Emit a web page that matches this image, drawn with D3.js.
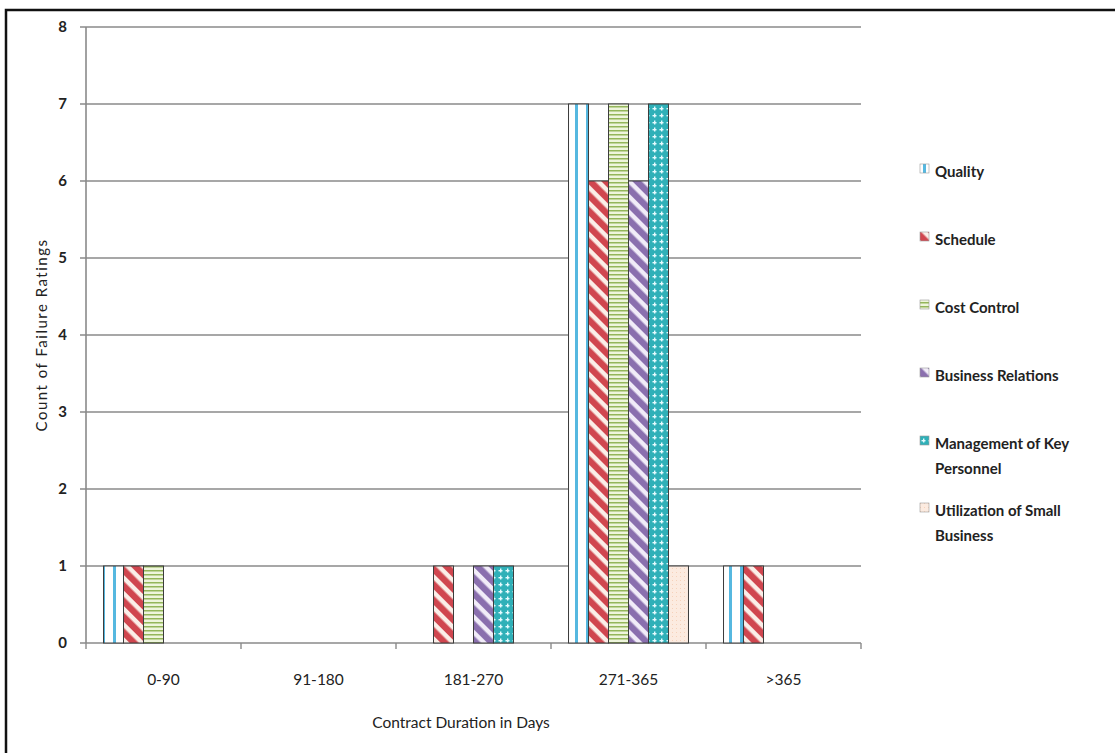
<!DOCTYPE html>
<html>
<head>
<meta charset="utf-8">
<script src="https://cdn.jsdelivr.net/npm/d3@7"></script>
<style>
  html, body { margin: 0; padding: 0; background: #ffffff; }
  svg { display: block; }
  text { font-family: Lato, "Open Sans", "DejaVu Sans", sans-serif; fill: #222; }
</style>
</head>
<body>
<script>
// ---- data ----
const categories = ["0-90", "91-180", "181-270", "271-365", ">365"];
const seriesNames = ["Quality", "Schedule", "Cost Control", "Business Relations",
  "Management of Key Personnel", "Utilization of Small Business"];
const quality            = [1, 0, 0, 7, 1];
const schedule           = [1, 0, 1, 6, 1];
const costControl        = [1, 0, 0, 7, 0];
const businessRelations  = [0, 0, 1, 6, 0];
const mgmtKeyPersonnel   = [0, 0, 1, 7, 0];
const smallBusiness      = [0, 0, 0, 1, 0];
const yTicks = [0, 1, 2, 3, 4, 5, 6, 7, 8];
const legendLines = [["Quality"], ["Schedule"], ["Cost Control"], ["Business Relations"],
  ["Management of Key", "Personnel"], ["Utilization of Small", "Business"]];
const xTitle = "Contract Duration in Days";
const yTitle = "Count of Failure Ratings";

const seriesValues = [quality, schedule, costControl, businessRelations, mgmtKeyPersonnel, smallBusiness];
const patternIds = ["pQuality", "pSchedule", "pCost", "pBusiness", "pMgmt", "pSmall"];

const W = 1115, H = 753;
const svg = d3.select("body").append("svg").attr("width", W).attr("height", H);

// ---- patterns ----
const defs = svg.append("defs");
// Quality: white with vertical blue lines
let p = defs.append("pattern").attr("id", "pQuality").attr("patternUnits", "userSpaceOnUse")
  .attr("width", 11).attr("height", 4);
p.append("rect").attr("width", 11).attr("height", 4).attr("fill", "#ffffff");
p.append("rect").attr("x", 3).attr("width", 3).attr("height", 4).attr("fill", "#56b8e0");
// Schedule: red diagonal stripes
p = defs.append("pattern").attr("id", "pSchedule").attr("patternUnits", "userSpaceOnUse")
  .attr("width", 11).attr("height", 11).attr("patternTransform", "rotate(-45)");
p.append("rect").attr("width", 11).attr("height", 11).attr("fill", "#fbeee8");
p.append("rect").attr("width", 6.5).attr("height", 11).attr("fill", "#d0464f");
// Cost Control: green horizontal lines
p = defs.append("pattern").attr("id", "pCost").attr("patternUnits", "userSpaceOnUse")
  .attr("width", 4).attr("height", 4);
p.append("rect").attr("width", 4).attr("height", 4).attr("fill", "#eef5dc");
p.append("rect").attr("y", 2).attr("width", 4).attr("height", 1.5).attr("fill", "#94b65a");
// Business Relations: purple diagonal stripes
p = defs.append("pattern").attr("id", "pBusiness").attr("patternUnits", "userSpaceOnUse")
  .attr("width", 11).attr("height", 11).attr("patternTransform", "rotate(-45)");
p.append("rect").attr("width", 11).attr("height", 11).attr("fill", "#f1ecf8");
p.append("rect").attr("width", 6.5).attr("height", 11).attr("fill", "#8a6fae");
// Management: teal with white dots
p = defs.append("pattern").attr("id", "pMgmt").attr("patternUnits", "userSpaceOnUse")
  .attr("width", 7).attr("height", 7);
p.append("rect").attr("width", 7).attr("height", 7).attr("fill", "#2fb0b8");
p.append("rect").attr("x", 1.5).attr("y", 3).attr("width", 4).attr("height", 1.4).attr("fill", "#e6fbff");
p.append("rect").attr("x", 3).attr("y", 1.5).attr("width", 1.4).attr("height", 4).attr("fill", "#e6fbff");
// Utilization: pale peach
p = defs.append("pattern").attr("id", "pSmall").attr("patternUnits", "userSpaceOnUse")
  .attr("width", 4).attr("height", 4);
p.append("rect").attr("width", 4).attr("height", 4).attr("fill", "#fcebe0");
p.append("rect").attr("width", 1).attr("height", 1).attr("fill", "#f6d2bb");

// ---- frame ----
svg.append("rect").attr("x", 6).attr("y", 10).attr("width", W + 20).attr("height", H + 20)
  .attr("fill", "none").attr("stroke", "#111").attr("stroke-width", 2.5);

// ---- scales ----
const plotLeft = 86, plotRight = 861, plotTop = 27, plotBottom = 643;
const x0 = d3.scaleBand().domain(categories).range([plotLeft, plotRight]).padding(0);
const x1 = d3.scaleBand().domain(seriesNames)
  .range([x0.bandwidth() * 0.113, x0.bandwidth() * 0.887]).padding(0);
const y = d3.scaleLinear().domain([0, 8]).range([plotBottom, plotTop]);

// ---- gridlines ----
const grid = svg.append("g");
grid.selectAll("line").data(yTicks).join("line")
  .attr("x1", plotLeft - 6).attr("x2", plotRight)
  .attr("y1", d => y(d)).attr("y2", d => y(d))
  .attr("stroke", "#8a8a8a").attr("stroke-width", 1.6);

// y axis line
svg.append("line").attr("x1", plotLeft).attr("x2", plotLeft)
  .attr("y1", y(8)).attr("y2", y(0)).attr("stroke", "#8a8a8a").attr("stroke-width", 1.6);

// x ticks at category boundaries
const bounds = categories.map(c => x0(c)).concat([x0(categories[categories.length - 1]) + x0.bandwidth()]);
svg.append("g").selectAll("line").data(bounds).join("line")
  .attr("x1", d => d).attr("x2", d => d)
  .attr("y1", y(0)).attr("y2", y(0) + 6)
  .attr("stroke", "#8a8a8a").attr("stroke-width", 1.4);

// ---- bars ----
const barData = [];
categories.forEach((c, ci) => {
  seriesNames.forEach((s, si) => {
    const v = seriesValues[si][ci];
    if (v > 0) barData.push({ c, s, si, v });
  });
});
svg.append("g").selectAll("rect").data(barData).join("rect")
  .attr("x", d => x0(d.c) + x1(d.s))
  .attr("y", d => y(d.v))
  .attr("width", x1.bandwidth())
  .attr("height", d => y(0) - y(d.v))
  .attr("fill", d => `url(#${patternIds[d.si]})`)
  .attr("stroke", "#3c3c3c").attr("stroke-width", 1);

// ---- axis labels ----
svg.append("g").selectAll("text").data(yTicks).join("text")
  .attr("x", 67).attr("y", d => y(d) + 5)
  .attr("text-anchor", "end").attr("font-size", 15).attr("font-weight", "bold")
  .text(d => d);

svg.append("g").selectAll("text").data(categories).join("text")
  .attr("x", d => x0(d) + x0.bandwidth() / 2).attr("y", 685)
  .attr("text-anchor", "middle").attr("font-size", 15.5)
  .text(d => d);

svg.append("text").attr("x", 461).attr("y", 728)
  .attr("text-anchor", "middle").attr("font-size", 15.5).text(xTitle);

svg.append("text").attr("transform", "translate(47,335) rotate(-90)")
  .attr("text-anchor", "middle").attr("font-size", 15)
  .attr("letter-spacing", 1.5).text(yTitle);

// ---- legend ----
const legendY = [172, 240, 308, 376, 444, 511];
const lg = svg.append("g").selectAll("g").data(seriesNames).join("g")
  .attr("transform", (d, i) => `translate(920,${legendY[i]})`);
lg.append("rect").attr("x", 0).attr("y", -8).attr("width", 9).attr("height", 9)
  .attr("fill", (d, i) => `url(#${patternIds[i]})`).attr("stroke", "#999").attr("stroke-width", 0.6);
lg.append("text").attr("x", 15).attr("y", 5).attr("font-size", 15).attr("font-weight", "bold")
  .attr("fill", "#2a2a2a")
  .selectAll("tspan").data((d, i) => legendLines[i]).join("tspan")
  .attr("x", 15).attr("dy", (d, j) => j === 0 ? 0 : 25).text(d => d);
</script>
</body>
</html>
